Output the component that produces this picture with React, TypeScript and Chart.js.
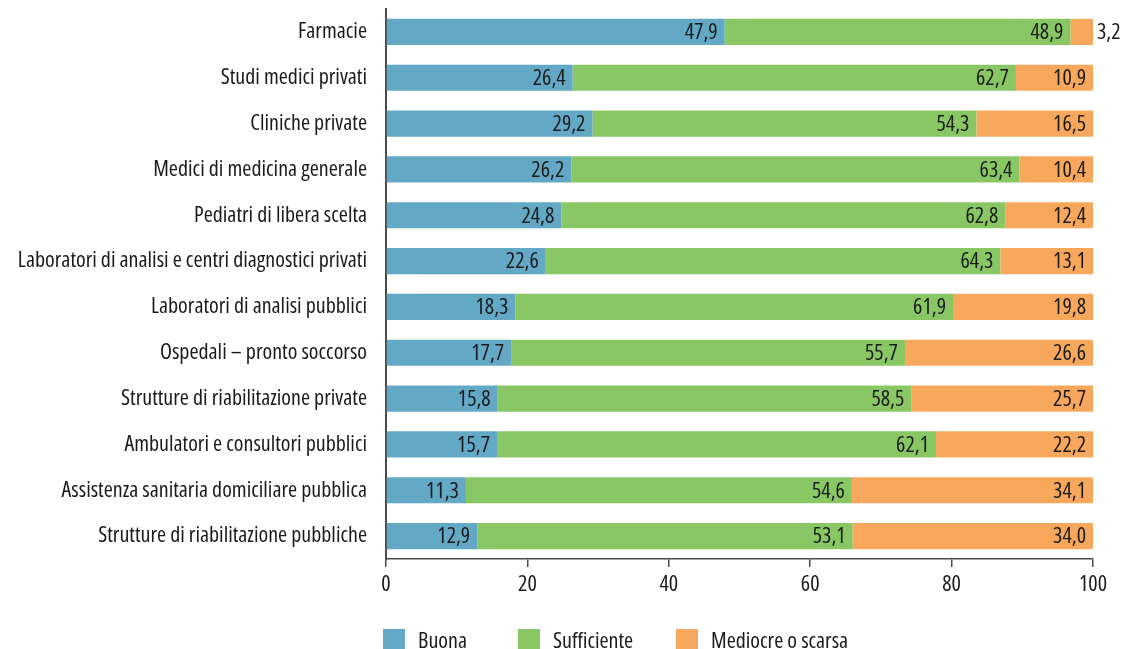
import React, { useEffect, useRef } from "react";
import { Chart, registerables } from "chart.js";

Chart.register(...registerables);

const categories = [
  "Farmacie",
  "Studi medici privati",
  "Cliniche private",
  "Medici di medicina generale",
  "Pediatri di libera scelta",
  "Laboratori di analisi e centri diagnostici privati",
  "Laboratori di analisi pubblici",
  "Ospedali – pronto soccorso",
  "Strutture di riabilitazione private",
  "Ambulatori e consultori pubblici",
  "Assistenza sanitaria domiciliare pubblica",
  "Strutture di riabilitazione pubbliche",
];

const buona = [47.9, 26.4, 29.2, 26.2, 24.8, 22.6, 18.3, 17.7, 15.8, 15.7, 11.3, 12.9];
const sufficiente = [48.9, 62.7, 54.3, 63.4, 62.8, 64.3, 61.9, 55.7, 58.5, 62.1, 54.6, 53.1];
const mediocre = [3.2, 10.9, 16.5, 10.4, 12.4, 13.1, 19.8, 26.6, 25.7, 22.2, 34.1, 34.0];

const seriesNames = ["Buona", "Sufficiente", "Mediocre o scarsa"];
const seriesColors = ["#63a9c6", "#89c765", "#f8a85c"];
const xTicks = [0, 20, 40, 60, 80, 100];

const TEXT = "#1a1a1a";
const AXIS = "#4a4a4a";

// pick the narrowest available font, sized so the longest label fits like the reference
function pickFont() {
  const c = document.createElement("canvas").getContext("2d") as CanvasRenderingContext2D;
  const sample = categories[5];
  const candidates = [
    { weight: "", family: "'Liberation Sans Narrow'" },
    { weight: "", family: "'Arial Narrow'" },
    { weight: "", family: "'DejaVu Sans Condensed'" },
    { weight: "condensed", family: "'Noto Sans'" },
    { weight: "condensed", family: "'Open Sans'" },
    { weight: "condensed", family: "'DejaVu Sans'" },
    { weight: "", family: "'Liberation Sans'" },
  ];
  c.font = "20px monospace";
  const mono = c.measureText(sample).width;
  let best = { weight: "", family: "'Liberation Sans'", ratio: 1e9 };
  for (const cand of candidates) {
    c.font = "10px serif";
    const str = `${cand.weight ? cand.weight + " " : ""}20px ${cand.family}, monospace`;
    c.font = str;
    if (c.font.indexOf("20px") < 0) continue;
    const w = c.measureText(sample).width;
    if (Math.abs(w - mono) < 0.5) continue;
    const ratio = w / 20;
    if (ratio < best.ratio) best = { ...cand, ratio };
  }
  const size = Math.min(22, 356 / best.ratio);
  return { weight: best.weight, family: best.family + ", sans-serif", size };
}

const fmt = (v: number) => v.toFixed(1).replace(".", ",");

export default function App() {
  const ref = useRef<HTMLCanvasElement | null>(null);

  useEffect(() => {
    document.body.style.margin = "0";
    const F = pickFont();
    const fontStr = `${F.weight ? F.weight + " " : ""}${F.size}px ${F.family}`;
    const fontOpt: any = { family: F.family, size: F.size };
    if (F.weight) fontOpt.weight = F.weight;

    const labelPlugin = {
      id: "segLabels",
      afterDatasetsDraw(chart: any) {
        const ctx = chart.ctx;
        ctx.save();
        ctx.font = fontStr;
        ctx.fillStyle = TEXT;
        ctx.textBaseline = "middle";
        chart.data.datasets.forEach((ds: any, di: number) => {
          const meta = chart.getDatasetMeta(di);
          meta.data.forEach((el: any, i: number) => {
            const t = fmt(ds.data[i]);
            const w = ctx.measureText(t).width;
            const segW = Math.abs(el.x - el.base);
            if (segW > w + 10) {
              ctx.textAlign = "right";
              ctx.fillText(t, el.x - 7, el.y + 1);
            } else {
              ctx.textAlign = "left";
              ctx.fillText(t, el.x + 4, el.y + 1);
            }
          });
        });
        ctx.restore();
      },
    };

    const legendOffsets = [383, 518, 676];
    const legendPlugin = {
      id: "customLegend",
      afterDraw(chart: any) {
        const ctx = chart.ctx;
        ctx.save();
        ctx.font = fontStr;
        ctx.textBaseline = "alphabetic";
        ctx.textAlign = "left";
        seriesNames.forEach((name, i) => {
          const x = legendOffsets[i];
          ctx.fillStyle = seriesColors[i];
          ctx.fillRect(x, 629, 22, 22);
          ctx.fillStyle = TEXT;
          ctx.fillText(name, x + 35, 648);
        });
        ctx.restore();
      },
    };

    const values = [buona, sufficiente, mediocre];
    const chart = new Chart(ref.current as HTMLCanvasElement, {
      type: "bar",
      data: {
        labels: categories,
        datasets: seriesNames.map((name, i) => ({
          label: name,
          data: values[i],
          backgroundColor: seriesColors[i],
          borderWidth: 0,
          barPercentage: 0.57,
          categoryPercentage: 1,
        })),
      },
      options: {
        indexAxis: "y",
        animation: false,
        responsive: false,
        maintainAspectRatio: false,
        layout: { padding: { left: 0, right: 32, top: 9, bottom: 50 } },
        plugins: {
          legend: { display: false },
          tooltip: { enabled: false },
        },
        scales: {
          x: {
            stacked: true,
            min: 0,
            max: 100,
            afterBuildTicks: (scale: any) => {
              scale.ticks = xTicks.map((v) => ({ value: v }));
            },
            afterFit: (scale: any) => {
              scale.height = 40;
              scale.paddingLeft = 0;
              scale.paddingRight = 0;
            },
            grid: {
              display: true,
              drawOnChartArea: false,
              drawTicks: true,
              tickLength: 8,
              color: AXIS,
              lineWidth: 1.5,
            },
            border: { display: true, color: AXIS, width: 1.5 },
            ticks: {
              color: TEXT,
              font: fontOpt,
              padding: 5,
              maxRotation: 0,
              autoSkip: false,
            },
          },
          y: {
            stacked: true,
            afterFit: (scale: any) => {
              scale.width = 386;
              scale.paddingTop = 0;
              scale.paddingBottom = 0;
            },
            grid: { display: false, drawTicks: false },
            border: { display: true, color: AXIS, width: 2 },
            ticks: {
              color: TEXT,
              font: fontOpt,
              padding: 19,
              autoSkip: false,
            },
          },
        },
      },
      plugins: [labelPlugin, legendPlugin],
    } as any);
    return () => chart.destroy();
  }, []);

  return (
    <div style={{ width: 1125, height: 649, overflow: "hidden" }}>
      <canvas ref={ref} width={1125} height={649} style={{ display: "block" }} />
    </div>
  );
}
